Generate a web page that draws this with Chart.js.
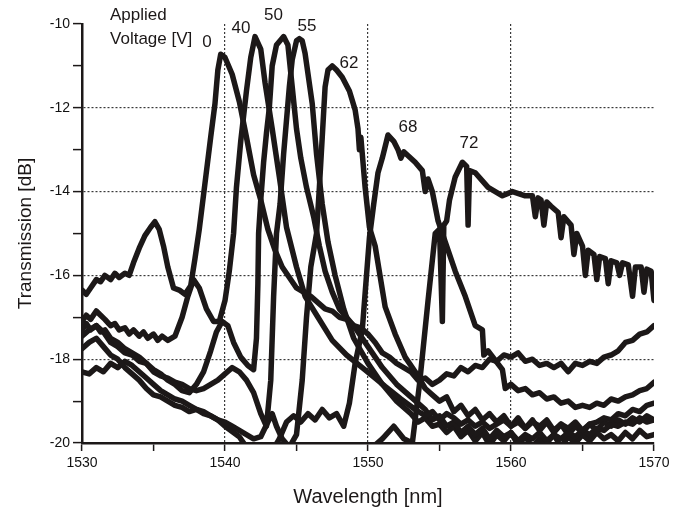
<!DOCTYPE html>
<html>
<head>
<meta charset="utf-8">
<script src="https://cdn.jsdelivr.net/npm/chart.js@4/dist/chart.umd.min.js"></script>
<style>
  html, body { margin: 0; padding: 0; background: #fff; }
  #wrap { width: 684px; height: 511px; }
</style>
</head>
<body>
<div id="wrap"><canvas id="graphTransmission"></canvas></div>
<script>
// applied voltages (one curve each)
const voltages = ['0', '40', '50', '55', '62', '68', '72']

// wavelength [nm] / transmission [dB]
const wl0 = [1530, 1530.3, 1530.6, 1531, 1531.3, 1531.6, 1532, 1532.3, 1532.6, 1533, 1533.3, 1533.6, 1534, 1534.4, 1534.8, 1535.1, 1535.4, 1535.7, 1536, 1536.4, 1536.8, 1537.2, 1537.6, 1537.9, 1538.2, 1538.6, 1539, 1539.3, 1539.5, 1539.7, 1540, 1540.5, 1541, 1541.5, 1542, 1542.5, 1543, 1543.5, 1544, 1544.5, 1545, 1545.5, 1546, 1546.5, 1547, 1547.5, 1548, 1548.5, 1549, 1549.5, 1550, 1550.5, 1551, 1551.5, 1552, 1552.5, 1553, 1553.5, 1554, 1554.5, 1555, 1555.5, 1556, 1556.5, 1557, 1557.5, 1558, 1558.5, 1559, 1559.5, 1560, 1560.5, 1561, 1561.5, 1562, 1562.5, 1563, 1563.5, 1564, 1564.5, 1565, 1565.5, 1566, 1566.5, 1567, 1567.5, 1568, 1568.5, 1569, 1569.5, 1570]
const tr0 = [-16.35, -16.45, -16.3, -16.1, -16.15, -16.0, -16.1, -15.95, -16.05, -15.95, -16.0, -15.7, -15.35, -15.05, -14.85, -14.72, -14.9, -15.3, -15.8, -16.3, -16.35, -16.45, -16.25, -15.6, -14.9, -13.8, -12.7, -11.9, -11.1, -10.72, -10.8, -11.2, -11.85, -12.7, -13.6, -14.2, -14.9, -15.4, -15.8, -16.05, -16.3, -16.4, -16.5, -16.65, -16.8, -16.85, -17.0, -17.05, -17.2, -17.25, -17.4, -17.6, -17.85, -17.95, -18.1, -18.2, -18.3, -18.5, -18.45, -18.6, -18.5, -18.35, -18.4, -18.2, -18.3, -18.15, -18.2, -18.0, -18.05, -17.9, -17.95, -17.85, -18.05, -18.0, -18.15, -18.1, -18.2, -18.1, -18.3, -18.1, -18.15, -18.05, -18.1, -17.95, -17.9, -17.8, -17.6, -17.55, -17.4, -17.35, -17.2]

const wl40 = [1530, 1530.3, 1530.6, 1531, 1531.3, 1531.6, 1532, 1532.3, 1532.6, 1533, 1533.3, 1533.6, 1534, 1534.3, 1534.6, 1535, 1535.3, 1535.6, 1536, 1536.5, 1537, 1537.4, 1537.8, 1538.2, 1538.7, 1539.2, 1539.6, 1540, 1540.3, 1540.6, 1540.8, 1541.1, 1541.5, 1541.8, 1542.1, 1542.5, 1542.8, 1543.3, 1543.8, 1544.3, 1545, 1545.6, 1546.5, 1547.5, 1548.5, 1549.6, 1550.5, 1551.2, 1552.3, 1553.3, 1554, 1554.5, 1555, 1555.5, 1556, 1556.5, 1557, 1557.5, 1558, 1558.5, 1559, 1559.5, 1560, 1560.5, 1561, 1561.5, 1562, 1562.5, 1563, 1563.5, 1564, 1564.5, 1565, 1565.5, 1566, 1566.5, 1567, 1567.5, 1568, 1568.5, 1569, 1569.5, 1570]
const tr40 = [-17.1, -16.95, -17.05, -16.85, -16.95, -17.05, -17.2, -17.15, -17.3, -17.25, -17.4, -17.3, -17.45, -17.35, -17.5, -17.4, -17.55, -17.45, -17.55, -17.45, -17.0, -16.5, -16.1, -16.3, -16.8, -17.1, -17.1, -16.6, -15.9, -15.0, -13.9, -12.8, -11.6, -10.8, -10.3, -10.6, -11.4, -12.5, -13.65, -14.85, -15.8, -16.5, -17.0, -17.55, -17.9, -18.2, -18.45, -18.65, -18.95, -19.2, -19.35, -19.25, -19.45, -19.3, -19.4, -19.55, -19.45, -19.6, -19.5, -19.65, -19.55, -19.45, -19.6, -19.5, -19.65, -19.5, -19.6, -19.45, -19.7, -19.55, -19.65, -19.5, -19.7, -19.55, -19.5, -19.4, -19.45, -19.3, -19.35, -19.2, -19.25, -19.1, -19.05]

const wl50 = [1530, 1530.3, 1530.6, 1531, 1531.3, 1531.6, 1532, 1532.5, 1533, 1533.5, 1534, 1534.5, 1535, 1535.5, 1536, 1536.5, 1537, 1537.5, 1538, 1538.5, 1539, 1539.4, 1539.8, 1540.2, 1540.6, 1541.1, 1541.6, 1542, 1542.2, 1542.3, 1542.35, 1542.5, 1542.7, 1542.9, 1543.1, 1543.3, 1543.6, 1544.1, 1544.4, 1544.7, 1545, 1545.3, 1545.7, 1546.2, 1546.6, 1547, 1547.5, 1548, 1549, 1550, 1551, 1552, 1553, 1554, 1554.5, 1555, 1555.5, 1556, 1556.5, 1557, 1557.5, 1558, 1558.5, 1559, 1559.5, 1560, 1560.5, 1561, 1561.5, 1562, 1562.5, 1563, 1563.5, 1564, 1564.5, 1565, 1565.5, 1566, 1566.5, 1567, 1567.5, 1568, 1568.5, 1569, 1569.5, 1570]
const tr50 = [-17.3, -17.15, -17.3, -17.2, -17.35, -17.3, -17.5, -17.6, -17.75, -17.85, -17.95, -18.1, -18.25, -18.35, -18.5, -18.6, -18.75, -18.8, -18.6, -18.3, -17.8, -17.35, -17.1, -17.2, -17.6, -17.95, -18.15, -18.25, -17.5, -16.2, -15.0, -14.2, -13.3, -12.6, -12.0, -11.0, -10.5, -10.3, -10.5, -11.5, -12.5, -13.2, -13.9, -14.6, -15.3, -15.9, -16.4, -16.8, -17.2, -17.7, -18.2, -18.6, -18.9, -19.2, -19.45, -19.35, -19.6, -19.5, -19.75, -19.6, -19.8, -19.65, -19.9, -19.7, -19.85, -19.75, -19.95, -19.8, -19.9, -19.75, -19.95, -19.8, -19.9, -19.75, -19.85, -19.7, -19.8, -19.65, -19.7, -19.55, -19.6, -19.5, -19.55, -19.4, -19.5, -19.45]

const wl55 = [1530, 1530.5, 1531, 1531.5, 1532, 1532.5, 1533, 1533.5, 1534, 1534.5, 1535, 1535.5, 1536, 1536.5, 1537, 1537.5, 1538, 1538.5, 1539, 1539.5, 1540, 1540.5, 1541, 1541.5, 1542, 1542.5, 1542.9, 1543.2, 1543.4, 1543.6, 1543.85, 1544.1, 1544.5, 1544.7, 1545, 1545.2, 1545.4, 1545.6, 1546.1, 1546.4, 1546.8, 1547.2, 1547.7, 1548.3, 1549, 1550, 1551, 1552, 1553, 1553.5, 1554, 1554.5, 1555, 1555.5, 1556, 1556.5, 1557, 1557.5, 1558, 1558.5, 1559, 1559.5, 1560, 1560.5, 1561, 1561.5, 1562, 1562.5, 1563, 1563.5, 1564, 1564.5, 1565, 1565.5, 1566, 1566.5, 1567, 1567.5, 1568, 1568.5, 1569, 1569.5, 1570]
const tr55 = [-17.45, -17.3, -17.2, -17.35, -17.6, -17.7, -17.85, -17.9, -18.05, -18.1, -18.3, -18.4, -18.45, -18.55, -18.6, -18.7, -18.75, -18.7, -18.6, -18.5, -18.35, -18.2, -18.3, -18.5, -18.8, -19.3, -19.6, -18.5, -16.5, -15.0, -14.3, -13.1, -11.5, -10.85, -10.4, -10.35, -10.4, -10.7, -11.9, -13.1, -14.3, -15.2, -16.0, -16.8, -17.5, -18.1, -18.6, -19.0, -19.3, -19.5, -19.4, -19.6, -19.55, -19.75, -19.6, -19.85, -19.7, -19.95, -19.75, -20.05, -19.8, -19.95, -19.75, -20.05, -19.85, -20.1, -19.9, -20.0, -19.8, -20.1, -19.85, -20.0, -19.8, -19.95, -19.75, -19.9, -19.8, -19.95, -19.75, -19.9, -19.7, -19.85, -19.8]

const wl62 = [1530, 1530.5, 1531, 1531.5, 1532, 1532.5, 1533, 1533.5, 1534, 1534.5, 1535, 1535.5, 1536, 1536.5, 1537, 1537.5, 1538, 1538.5, 1539, 1539.5, 1540, 1540.5, 1541, 1541.5, 1542, 1542.5, 1543, 1543.3, 1543.6, 1544, 1544.5, 1545, 1545.4, 1545.7, 1546, 1546.4, 1546.6, 1546.8, 1547, 1547.2, 1547.5, 1547.8, 1548.2, 1548.7, 1549.1, 1549.3, 1549.4, 1549.5, 1549.8, 1550.1, 1550.5, 1551.2, 1551.9, 1552.6, 1553.3, 1554, 1554.5, 1555, 1555.5, 1556, 1556.5, 1557, 1557.5, 1558, 1558.5, 1559, 1559.5, 1560, 1560.5, 1561, 1561.5, 1562, 1562.5, 1563, 1563.5, 1564, 1564.5, 1565, 1565.5, 1566, 1566.5, 1567, 1567.5, 1568, 1568.5, 1569, 1569.5, 1570]
const tr62 = [-17.75, -17.6, -17.5, -17.7, -17.9, -18.0, -18.2, -18.35, -18.5, -18.7, -18.85, -18.9, -19.0, -19.1, -19.15, -19.25, -19.2, -19.3, -19.35, -19.45, -19.5, -19.6, -19.7, -19.8, -19.9, -19.85, -19.5, -19.3, -19.6, -19.9, -20.1, -19.8, -18.5, -17.0, -15.8, -15.0, -13.9, -12.7, -11.5, -11.1, -11.0, -11.1, -11.27, -11.6, -12.05, -12.5, -13.0, -12.7, -13.9, -14.85, -15.3, -16.75, -17.4, -17.95, -18.3, -18.7, -18.85, -19.0, -18.9, -19.25, -19.1, -19.35, -19.2, -19.45, -19.3, -19.5, -19.35, -19.6, -19.4, -19.65, -19.45, -19.7, -19.5, -19.75, -19.55, -19.8, -19.6, -19.75, -19.55, -19.7, -19.5, -19.6, -19.45, -19.55, -19.4, -19.5, -19.35, -19.45]

const wl68 = [1530, 1530.5, 1531, 1531.5, 1532, 1532.5, 1533, 1533.5, 1534, 1534.5, 1535, 1535.5, 1536, 1536.5, 1537, 1537.5, 1538, 1538.5, 1539, 1539.5, 1540, 1541, 1541.5, 1542.5, 1543.3, 1543.8, 1544.3, 1544.8, 1545.3, 1545.8, 1546.3, 1546.8, 1547.3, 1547.8, 1548.3, 1548.7, 1549.1, 1549.6, 1550.1, 1550.4, 1550.7, 1551, 1551.4, 1551.8, 1552.1, 1552.3, 1552.5, 1553.3, 1553.8, 1554, 1554.2, 1554.5, 1554.9, 1555.4, 1556.1, 1556.8, 1557.5, 1558, 1558.1, 1558.4, 1559.4, 1559.6, 1560, 1560.5, 1561, 1561.5, 1562, 1562.5, 1563, 1563.5, 1564, 1564.5, 1565, 1565.5, 1566, 1566.5, 1567, 1567.5, 1568, 1568.5, 1569, 1569.5, 1570]
const tr68 = [-18.3, -18.35, -18.2, -18.3, -18.1, -18.2, -18.05, -18.15, -18.3, -18.45, -18.6, -18.75, -18.85, -18.95, -19.0, -19.1, -19.2, -19.25, -19.35, -19.45, -19.6, -19.85, -20.1, -20.3, -20.2, -19.9, -19.5, -19.35, -19.5, -19.3, -19.45, -19.2, -19.4, -19.3, -19.6, -19.05, -18.1, -17.3, -15.1, -14.3, -13.55, -13.2, -12.65, -12.8, -13.0, -13.2, -13.05, -13.3, -13.5, -14.0, -13.7, -14.0, -14.7, -15.2, -15.9, -16.5, -17.2, -17.3, -17.9, -17.8, -18.25, -18.7, -18.6, -18.75, -18.7, -18.85, -18.8, -18.95, -18.9, -19.05, -19.0, -19.15, -19.1, -19.15, -19.05, -19.1, -18.95, -19.0, -18.9, -18.85, -18.75, -18.7, -18.55]

const wl72 = [1530, 1535, 1540, 1545, 1548, 1550, 1551, 1551.8, 1552.5, 1553.1, 1553.6, 1554.2, 1554.7, 1555, 1555.2, 1555.3, 1555.5, 1555.7, 1556.1, 1556.6, 1556.9, 1557, 1557.1, 1557.5, 1558.4, 1559.4, 1560.1, 1561, 1561.5, 1561.7, 1561.9, 1562.1, 1562.3, 1562.5, 1562.8, 1563.3, 1563.5, 1563.7, 1564.2, 1564.4, 1564.6, 1565, 1565.2, 1565.4, 1565.8, 1566, 1566.2, 1566.6, 1566.8, 1567, 1567.4, 1567.6, 1567.8, 1568.2, 1568.5, 1568.7, 1569.1, 1569.3, 1569.5, 1569.8, 1570]
const tr72 = [-20.6, -20.5, -20.5, -20.4, -20.3, -20.2, -19.9, -19.6, -19.9, -20.0, -18.6, -16.6, -15.0, -14.9, -17.1, -14.8, -14.7, -14.2, -13.65, -13.3, -13.4, -14.8, -13.5, -13.55, -13.9, -14.1, -14.0, -14.1, -14.1, -14.6, -14.15, -14.2, -14.8, -14.25, -14.35, -14.5, -15.1, -14.6, -14.8, -15.5, -15.0, -15.3, -16.0, -15.4, -15.5, -16.1, -15.55, -15.6, -16.2, -15.65, -15.7, -16.0, -15.7, -15.75, -16.5, -15.8, -15.8, -16.4, -15.85, -15.9, -16.6]

const wavelengths = [wl0, wl40, wl50, wl55, wl62, wl68, wl72]
const transmissions = [tr0, tr40, tr50, tr55, tr62, tr68, tr72]

// text written on the plot, placed in data units
const notes = ['0', '40', '50', '55', '62', '68', '72']
const noteX = [1538.74, 1541.12, 1543.39, 1545.73, 1548.67, 1552.8, 1557.06]
const noteY = [-10.43, -10.1, -9.79, -10.05, -10.93, -12.46, -12.84]
const xTicks = [1530, 1540, 1550, 1560, 1570]
const yTicks = [-20, -18, -16, -14, -12, -10]

const lineColor = '#1c1818'
const fontFamily = 'Arial, "Liberation Sans", Helvetica, sans-serif'

const datasets = voltages.map(function (v, k) {
  return {
    label: v + ' V',
    data: wavelengths[k].map((x, i) => ({x: x, y: transmissions[k][i]})),
    borderColor: lineColor,
    borderWidth: 5.5,
    pointRadius: 0,
    tension: 0,
    borderJoinStyle: 'round',
    borderCapStyle: 'round',
    fill: false
  }
})

const notesPlugin = {
  id: 'notes',
  afterDatasetsDraw(chart) {
    const ctx = chart.ctx
    const xs = chart.scales.x
    const ys = chart.scales.y
    ctx.save()
    ctx.fillStyle = '#1c1818'
    ctx.font = '17px ' + fontFamily
    ctx.textBaseline = 'middle'
    ctx.textAlign = 'center'
    for (let i = 0; i < notes.length; i++) {
      ctx.fillText(notes[i], xs.getPixelForValue(noteX[i]), ys.getPixelForValue(noteY[i]))
    }
    ctx.textAlign = 'left'
    ctx.fillText('Applied', xs.getPixelForValue(1531.96), ys.getPixelForValue(-9.79))
    ctx.fillText('Voltage [V]', xs.getPixelForValue(1531.96), ys.getPixelForValue(-10.36))
    ctx.restore()
  }
}

const config = {
  type: 'line',
  data: {datasets: datasets},
  options: {
    responsive: true,
    maintainAspectRatio: false,
    animation: false,
    layout: {padding: {top: 24, right: 30, left: 0, bottom: 0}},
    plugins: {
      legend: {display: false},
      tooltip: {enabled: false}
    },
    scales: {
      x: {
        type: 'linear',
        min: 1530,
        max: 1570,
        afterFit: function (s) { s.height = 68 },
        ticks: {
          stepSize: 5,
          autoSkip: false,
          maxRotation: 0,
          padding: 4,
          color: '#111',
          font: {family: fontFamily, size: 14},
          callback: v => xTicks.includes(v) ? String(v) : ''
        },
        grid: {
          color: c => (c.tick && [1540, 1550, 1560].includes(c.tick.value)) ? '#3a3a3a' : 'rgba(0,0,0,0)',
          lineWidth: 1.2,
          tickColor: '#1c1818',
          tickLength: 8,
          tickWidth: 1.5,
          tickBorderDash: []
        },
        border: {display: true, color: '#1c1818', width: 2.5, dash: [2, 2]},
        title: {
          display: true,
          text: 'Wavelength [nm]',
          color: '#1c1818',
          font: {family: fontFamily, size: 20},
          padding: {top: 0, bottom: 2}
        }
      },
      y: {
        min: -20,
        max: -10,
        afterFit: function (s) { s.width = 82 },
        ticks: {
          stepSize: 1,
          autoSkip: false,
          padding: 3,
          color: '#111',
          font: {family: fontFamily, size: 14},
          callback: v => yTicks.includes(v) ? String(v) : ''
        },
        grid: {
          color: c => (c.tick && [-12, -14, -16, -18].includes(c.tick.value)) ? '#3a3a3a' : 'rgba(0,0,0,0)',
          lineWidth: 1.2,
          tickColor: '#1c1818',
          tickLength: 9,
          tickWidth: 1.5,
          tickBorderDash: []
        },
        border: {display: true, color: '#1c1818', width: 2.5, dash: [2, 2]},
        title: {
          display: true,
          text: 'Transmission [dB]',
          color: '#1c1818',
          font: {family: fontFamily, size: 19},
          padding: {top: 14, bottom: 0}
        }
      }
    }
  },
  plugins: [notesPlugin]
}

const graphTransmission = document.getElementById('graphTransmission')
const transmissionGraph = new Chart(graphTransmission, config)
</script>
</body>
</html>
